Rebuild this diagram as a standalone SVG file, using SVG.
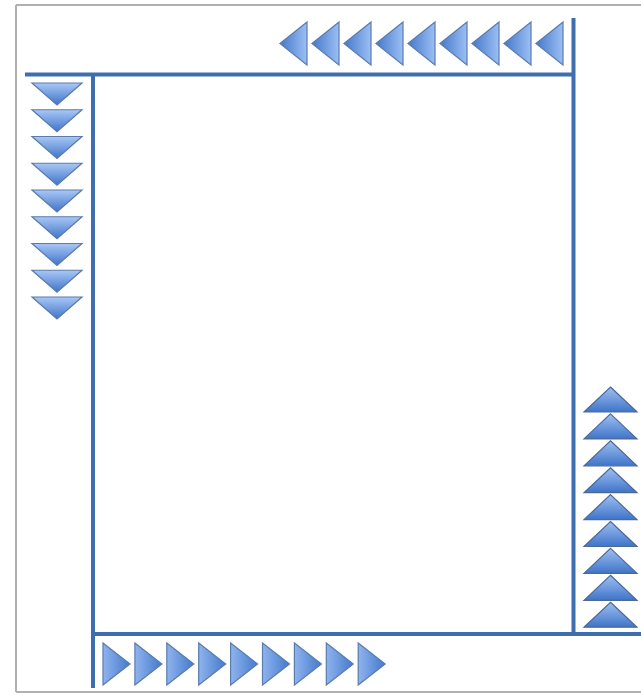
<svg xmlns="http://www.w3.org/2000/svg" xmlns:xlink="http://www.w3.org/1999/xlink" width="641" height="695" viewBox="0 0 641 695">
  <defs>
    <linearGradient id="gDown" x1="0" y1="0" x2="0" y2="1">
      <stop offset="0" stop-color="#a9c8f5"/>
      <stop offset="1" stop-color="#3f74c9"/>
    </linearGradient>
    <linearGradient id="gUp" x1="0" y1="1" x2="0" y2="0">
      <stop offset="0" stop-color="#3f74c9"/>
      <stop offset="1" stop-color="#9fc0f2"/>
    </linearGradient>
    <linearGradient id="gRight" x1="0" y1="0" x2="1" y2="0">
      <stop offset="0" stop-color="#8fb4ee"/>
      <stop offset="1" stop-color="#4379cc"/>
    </linearGradient>
    <linearGradient id="gLeft" x1="1" y1="0" x2="0" y2="0">
      <stop offset="0" stop-color="#9cbff3"/>
      <stop offset="1" stop-color="#4379cc"/>
    </linearGradient>
    <polygon id="tLeft" points="0,21.5 27,0 27,43" fill="url(#gLeft)" stroke="#5b7bab" stroke-width="1.2"/>
    <polygon id="tRight" points="0,0 27,21 0,42" fill="url(#gRight)" stroke="#5b7bab" stroke-width="1.2"/>
    <polygon id="tDown" points="0,0 50,0 25,22" fill="url(#gDown)" stroke="#5b7bab" stroke-width="1.2"/>
    <polygon id="tUp" points="26.5,0 53,25 0,25" fill="url(#gUp)" stroke="#4d6a96" stroke-width="1.2"/>
  </defs>
  <style>
    .frame { stroke: #b0b0b0; stroke-width: 2; fill: none; }
    .bar { stroke: #3f6eaf; stroke-width: 4; fill: none; stroke-linecap: butt; }
  </style>
  <rect width="641" height="695" fill="#ffffff"/>
  <g id="frame">
    <line class="frame" x1="16" y1="5" x2="641" y2="5"/>
    <line class="frame" x1="16" y1="5" x2="16" y2="692"/>
    <line class="frame" x1="16" y1="692" x2="641" y2="692"/>
  </g>
  <g id="bars">
    <line class="bar" x1="25" y1="74.5" x2="575" y2="74.5"/>
    <line class="bar" x1="573.5" y1="18" x2="573.5" y2="636"/>
    <line class="bar" x1="93" y1="74" x2="93" y2="688"/>
    <line class="bar" x1="93" y1="634" x2="641" y2="634"/>
  </g>
  <g id="top-arrows">
    <use xlink:href="#tLeft" x="280" y="22"/>
    <use xlink:href="#tLeft" x="312" y="22"/>
    <use xlink:href="#tLeft" x="344" y="22"/>
    <use xlink:href="#tLeft" x="376" y="22"/>
    <use xlink:href="#tLeft" x="408" y="22"/>
    <use xlink:href="#tLeft" x="440" y="22"/>
    <use xlink:href="#tLeft" x="472" y="22"/>
    <use xlink:href="#tLeft" x="504" y="22"/>
    <use xlink:href="#tLeft" x="536" y="22"/>
  </g>
  <g id="left-arrows">
    <use xlink:href="#tDown" x="32" y="83"/>
    <use xlink:href="#tDown" x="32" y="109.75"/>
    <use xlink:href="#tDown" x="32" y="136.5"/>
    <use xlink:href="#tDown" x="32" y="163.25"/>
    <use xlink:href="#tDown" x="32" y="190"/>
    <use xlink:href="#tDown" x="32" y="216.75"/>
    <use xlink:href="#tDown" x="32" y="243.5"/>
    <use xlink:href="#tDown" x="32" y="270.25"/>
    <use xlink:href="#tDown" x="32" y="297"/>
  </g>
  <g id="right-arrows">
    <use xlink:href="#tUp" x="584" y="387"/>
    <use xlink:href="#tUp" x="584" y="413.9"/>
    <use xlink:href="#tUp" x="584" y="440.8"/>
    <use xlink:href="#tUp" x="584" y="467.7"/>
    <use xlink:href="#tUp" x="584" y="494.6"/>
    <use xlink:href="#tUp" x="584" y="521.5"/>
    <use xlink:href="#tUp" x="584" y="548.4"/>
    <use xlink:href="#tUp" x="584" y="575.3"/>
    <use xlink:href="#tUp" x="584" y="602.2"/>
  </g>
  <g id="bottom-arrows">
    <use xlink:href="#tRight" x="103" y="643"/>
    <use xlink:href="#tRight" x="134.9" y="643"/>
    <use xlink:href="#tRight" x="166.8" y="643"/>
    <use xlink:href="#tRight" x="198.7" y="643"/>
    <use xlink:href="#tRight" x="230.6" y="643"/>
    <use xlink:href="#tRight" x="262.5" y="643"/>
    <use xlink:href="#tRight" x="294.4" y="643"/>
    <use xlink:href="#tRight" x="326.3" y="643"/>
    <use xlink:href="#tRight" x="358.2" y="643"/>
  </g>
</svg>
